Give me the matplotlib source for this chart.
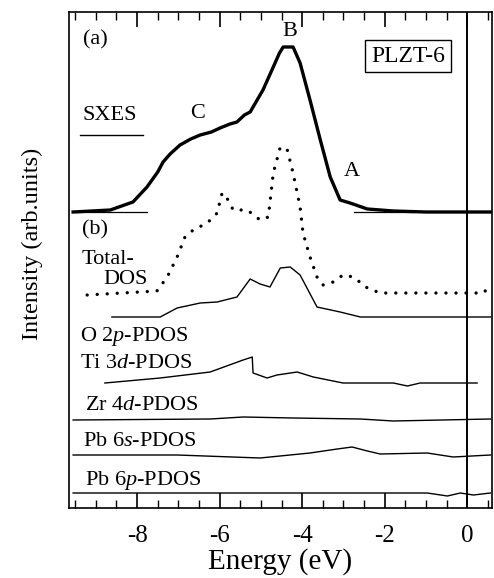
import matplotlib
matplotlib.use("Agg")
import matplotlib.pyplot as plt
from matplotlib.ticker import MultipleLocator, FixedLocator
from matplotlib.lines import Line2D

plt.rcParams['font.family'] = ['Liberation Serif', 'DejaVu Serif']
plt.rcParams['mathtext.fontset'] = 'custom'
plt.rcParams['mathtext.rm'] = 'Liberation Serif'
plt.rcParams['mathtext.it'] = 'Liberation Serif:italic'

# ---------------- data (energy in eV, intensity in arbitrary offset units) -------------
sxes_E = [-9.55, -8.65, -8.10, -7.76, -7.50, -7.37, -7.20, -6.96, -6.70, -6.47, -6.20,
          -5.99, -5.75, -5.58, -5.40, -5.26, -4.95, -4.70, -4.55, -4.46, -4.22, -4.05,
          -3.81, -3.56, -3.32, -3.08, -2.84, -2.42, -1.79, -1.00, 0.56]
sxes_I = [296, 298, 306, 321, 336, 346, 354, 363, 369, 373, 376,
          380, 384, 386, 393, 396, 418, 441, 455, 461, 461, 445,
          408, 368, 331, 308, 305, 299, 297, 296, 296]

tdos_E = [-9.21, -7.52, -7.27, -7.03, -6.84, -6.64, -6.30, -6.06, -6.00, -5.94, -5.85,
          -5.67, -5.33, -5.02, -4.82, -4.70, -4.53, -4.36, -4.22, -4.05, -3.98, -3.81,
          -3.64, -3.49, -3.25, -3.01, -2.76, -2.42, -2.11, 0.39, 0.48]
tdos_I = [213, 217, 231, 251, 271, 278, 285, 295, 305, 315, 312,
          298, 298, 288, 291, 335, 361, 358, 335, 301, 275, 251,
          231, 223, 226, 233, 231, 220, 215, 215, 219]

o2p_E = [-8.61, -7.44, -7.03, -6.47, -6.06, -5.58, -5.26, -5.02, -4.78, -4.53, -4.29,
         -4.05, -3.64, -3.08, -2.59, 0.56]
o2p_I = [191, 191, 200, 205, 206, 211, 229, 224, 221, 240, 241,
         233, 201, 196, 191, 191]

ti3d_E = [-8.78, -7.44, -6.23, -5.43, -5.21, -5.19, -4.85, -4.61, -4.12, -3.73, -3.01,
          -1.79, -1.45, -1.14, 0.24]
ti3d_I = [125, 130, 136, 148, 151, 135, 130, 133, 136, 131, 125,
          125, 122, 125, 125]

zr4d_E = [-9.55, -6.23, -5.43, -4.22, -2.59, -1.79, 0.56]
zr4d_I = [88, 89, 91, 90, 89, 87, 89]

pb6s_E = [-9.55, -7.03, -5.02, -3.81, -3.15, -2.79, -2.42, -2.11, -0.97, -0.34, 0.56]
pb6s_I = [53, 53, 50, 55, 59, 61, 57, 54, 55, 51, 53]

pb6p_E = [-9.55, -0.97, -0.48, -0.17, 0.15, 0.56]
pb6p_I = [15, 15, 12, 15, 13, 15]

sxes_base_left = [-9.5, -7.75]
sxes_base_right = [-2.75, -1.3]
sxes_base_level = 296

xticks = [-8, -6, -4, -2, 0]
xtick_labels = ['-8', '-6', '-4', '-2', '0']

# ---------------- figure ----------------
W, H = 494, 578
fig = plt.figure(figsize=(W / 100, H / 100), dpi=100)
L, R, T, B = 69, 492, 12, 508
ax = fig.add_axes([L / W, (H - B) / H, (R - L) / W, (B - T) / H])
ax.set_xlim(-9.65, 0.6)
ax.set_ylim(0, B - T)


def pix(px, py):
    return (px - L) / (R - L), (B - py) / (B - T)


ax.plot(sxes_E, sxes_I, color='black', lw=2.4, solid_joinstyle='round')
ax.plot(sxes_base_left, [sxes_base_level] * 2, color='black', lw=0.9)
ax.plot(sxes_base_right, [sxes_base_level] * 2, color='black', lw=0.9)
ax.plot(tdos_E, tdos_I, color='black', lw=2.4, linestyle=(0, (0.01, 3.0)),
        dash_capstyle='round')
for e, i in [(o2p_E, o2p_I), (ti3d_E, ti3d_I), (zr4d_E, zr4d_I),
             (pb6s_E, pb6s_I), (pb6p_E, pb6p_I)]:
    ax.plot(e, i, color='black', lw=1.0)

ax.axvline(0, color='black', lw=1.4)

ax.xaxis.set_major_locator(FixedLocator(xticks))
ax.set_xticklabels(xtick_labels)
ax.xaxis.set_minor_locator(MultipleLocator(0.5))
ax.xaxis.set_ticks_position('both')
ax.yaxis.set_ticks([])
ax.tick_params(axis='x', which='major', direction='in', length=11, width=1.2,
               labelsize=18, pad=12, top=True, bottom=True)
ax.tick_params(axis='x', which='minor', direction='in', length=6, width=1.0,
               top=True, bottom=True)
for s in ax.spines.values():
    s.set_linewidth(1.2)

ax.set_xlabel('Energy (eV)', fontsize=21, labelpad=1)
ax.set_ylabel('Intensity (arb.units)', fontsize=17.5)
ax.yaxis.set_label_coords(*pix(43, 244))

fs = 16
tkw = dict(transform=ax.transAxes, fontsize=fs, va='center')
ax.text(*pix(83, 40), '(a)', ha='left', **tkw)
ax.text(*pix(290, 32), 'B', ha='center', **tkw)
ax.text(*pix(198, 114), 'C', ha='center', **tkw)
ax.text(*pix(352, 171), 'A', ha='center', **tkw)
ax.text(*pix(82, 116), 'SXES', ha='left', **tkw)
x0, y0 = pix(80, 135)
x1, _ = pix(143, 135)
ax.add_line(Line2D([x0, x1], [y0, y0], transform=ax.transAxes, color='black', lw=1.0))
ax.text(*pix(408, 56), 'PLZT-6', ha='center', transform=ax.transAxes, fontsize=17,
        va='center', bbox=dict(boxstyle='square,pad=0.25', fc='white', ec='black', lw=1.0))
ax.text(*pix(82, 230), '(b)', ha='left', **tkw)
ax.text(*pix(82, 260), 'Total-', ha='left', **tkw)
ax.text(*pix(103, 280), 'DOS', ha='left', **tkw)
ax.text(*pix(80, 336), 'O 2$p$-PDOS', ha='left', **tkw)
ax.text(*pix(80, 364), 'Ti 3$d$-PDOS', ha='left', **tkw)
ax.text(*pix(85, 405), 'Zr 4$d$-PDOS', ha='left', **tkw)
ax.text(*pix(83, 441), 'Pb 6$s$-PDOS', ha='left', **tkw)
ax.text(*pix(85, 480), 'Pb 6$p$-PDOS', ha='left', **tkw)

fig.savefig('out.png', dpi=100)
